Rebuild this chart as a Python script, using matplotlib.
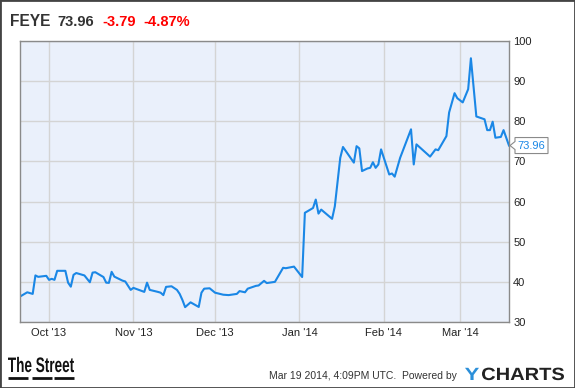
import matplotlib
matplotlib.use('Agg')
import matplotlib.pyplot as plt
import matplotlib.dates as mdates
from matplotlib.textpath import TextPath
from matplotlib.font_manager import FontProperties
from matplotlib.patches import PathPatch, Polygon
from matplotlib.transforms import Affine2D, IdentityTransform
import pandas as pd

# FEYE closing prices (turning points)
dates = ['2013-09-20', '2013-09-23', '2013-09-25', '2013-09-26', '2013-09-27', '2013-09-30',
         '2013-10-01', '2013-10-02', '2013-10-03', '2013-10-04', '2013-10-07', '2013-10-08',
         '2013-10-09', '2013-10-10', '2013-10-11', '2013-10-14', '2013-10-16', '2013-10-17',
         '2013-10-18', '2013-10-21', '2013-10-22', '2013-10-23', '2013-10-24', '2013-10-25',
         '2013-10-28', '2013-10-29', '2013-10-31', '2013-11-01', '2013-11-03', '2013-11-05',
         '2013-11-06', '2013-11-07', '2013-11-10', '2013-11-11', '2013-11-12', '2013-11-13',
         '2013-11-15', '2013-11-17', '2013-11-18', '2013-11-19', '2013-11-20', '2013-11-22',
         '2013-11-25', '2013-11-26', '2013-11-27', '2013-11-29', '2013-12-01', '2013-12-04',
         '2013-12-06', '2013-12-09', '2013-12-10', '2013-12-12', '2013-12-13', '2013-12-16',
         '2013-12-17', '2013-12-19', '2013-12-20', '2013-12-23', '2013-12-26', '2013-12-27',
         '2013-12-30', '2014-01-02', '2014-01-03', '2014-01-06', '2014-01-07', '2014-01-08',
         '2014-01-09', '2014-01-13', '2014-01-14', '2014-01-16', '2014-01-17', '2014-01-21',
         '2014-01-22', '2014-01-23', '2014-01-24', '2014-01-26', '2014-01-27', '2014-01-28',
         '2014-01-29', '2014-01-30', '2014-01-31', '2014-02-03', '2014-02-04', '2014-02-05',
         '2014-02-07', '2014-02-11', '2014-02-12', '2014-02-13', '2014-02-18', '2014-02-20',
         '2014-02-21', '2014-02-24', '2014-02-25', '2014-02-27', '2014-02-28', '2014-03-02',
         '2014-03-04', '2014-03-05', '2014-03-07', '2014-03-10', '2014-03-11', '2014-03-12',
         '2014-03-13', '2014-03-14', '2014-03-16', '2014-03-17', '2014-03-19']
prices = [36.2, 37.4, 37.0, 41.6, 41.25, 41.5,
          40.5, 40.75, 40.5, 42.75, 42.75, 39.8,
          38.8, 41.75, 42.2, 41.6, 39.9, 42.3,
          42.4, 41.2, 39.8, 39.75, 42.5, 41.3,
          40.3, 40.1, 38.0, 38.5, 38.0, 37.5,
          39.8, 38.0, 37.5, 37.3, 36.7, 38.75,
          38.9, 38.0, 37.0, 35.5, 33.7, 34.9,
          33.75, 37.3, 38.3, 38.4, 37.3, 36.8,
          36.7, 37.0, 37.7, 37.4, 38.3, 39.0,
          39.1, 40.25, 39.7, 40.0, 43.5, 43.4,
          43.8, 41.2, 57.2, 58.4, 60.5, 57.0,
          58.0, 55.7, 58.8, 70.9, 73.6, 69.7,
          73.8, 73.25, 67.6, 68.25, 68.4, 69.8,
          68.4, 69.25, 73.0, 66.75, 67.0, 66.2,
          70.9, 78.0, 69.25, 74.25, 71.2, 73.0,
          72.8, 76.3, 82.2, 87.0, 85.75, 84.7,
          88.0, 95.7, 81.2, 80.5, 77.8, 77.8,
          79.9, 75.9, 76.1, 77.8, 73.96]

yticks = [30, 40, 50, 60, 70, 80, 90, 100]
month_ticks = ['2013-10-01', '2013-11-01', '2013-12-01', '2014-01-01', '2014-02-01', '2014-03-01']
month_labels = ["Oct '13", "Nov '13", "Dec '13", "Jan '14", "Feb '14", "Mar '14"]

W, H = 575, 388
x = pd.to_datetime(dates)

plt.rcParams['font.family'] = ['Liberation Sans', 'DejaVu Sans']

fig = plt.figure(figsize=(W / 100, H / 100), dpi=100)
ax = fig.add_axes([20/W, 1 - 322/H, 489/W, 281/H])
ax.set_facecolor('#eaf0fb')

ax.plot(x, prices, color='#1a87e6', lw=1.5)

ax.set_xlim(pd.Timestamp('2013-09-20 08:00'), pd.Timestamp('2014-03-19'))
ax.set_ylim(30, 100)
ax.set_yticks(yticks)
ax.set_xticks(pd.to_datetime(month_ticks))
ax.set_xticklabels(month_labels)
ax.yaxis.tick_right()
ax.tick_params(length=0, labelsize=8, colors='#222222')
ax.tick_params(axis='y', pad=3)
ax.tick_params(axis='x', pad=4)
ax.grid(True, color='#d4d4d4', lw=1)
ax.set_axisbelow(True)
for s in ax.spines.values():
    s.set_color('#8a8a8a')
    s.set_linewidth(1)

# last value tag, pointer anchored to the last point
tx, ty = ax.transData.transform((mdates.date2num(x[-1]), prices[-1]))
tx += 1
tag = Polygon([(tx, ty), (tx + 5, ty + 4), (tx + 5, ty + 8), (tx + 38, ty + 8),
               (tx + 38, ty - 8), (tx + 5, ty - 8), (tx + 5, ty - 4)],
              closed=True, fc='white', ec='#8a8a8a', lw=0.8, transform=IdentityTransform())
fig.add_artist(tag)
fig.text((tx + 7) / W, ty / H, '73.96', fontsize=8, color='#1a87e6', va='center')

# header
hy = 1 - 26/H
fig.text(10/W, hy, 'FEYE', fontsize=11.2, fontweight='bold', color='#333333', va='baseline')
fig.text(57/W, hy, '73.96', fontsize=10.5, fontweight='bold', color='#333333', va='baseline')
fig.text(102/W, hy, '-3.79', fontsize=10.5, fontweight='bold', color='#ff0000', va='baseline')
fig.text(143/W, hy, '-4.87%', fontsize=10.5, fontweight='bold', color='#ff0000', va='baseline')


def logo(text, x0, x1, base, cap, color, family='Liberation Sans'):
    # word mark squeezed into a pixel box (x0..x1, baseline at pixel row base)
    p = TextPath((0, 0), text, size=100, prop=FontProperties(family=family, weight='bold'))
    ext = p.get_extents()
    sx = (x1 - x0) / ext.width
    sy = cap / 71.6
    tr = Affine2D().translate(-ext.x0, 0).scale(sx, sy).translate(x0, H - base)
    fig.add_artist(PathPatch(tr.transform_path(p), fc=color, ec='none',
                             transform=IdentityTransform()))


# footer
logo('The Street', 8, 74, 372, 15, '#111111')
for x0 in [8, 32, 54]:
    fig.add_artist(plt.Line2D([x0/W, (x0 + 20)/W], [1 - 378/H, 1 - 378/H],
                              color='#111111', lw=2, solid_capstyle='butt'))
fig.text(269/W, 1 - 379/H, 'Mar 19 2014, 4:09PM UTC.  Powered by', fontsize=7.5,
         color='#333333', va='baseline')
logo('Y', 465, 479, 380, 12.7, '#2b8fd9')
logo('CHARTS', 482, 564, 380, 12.7, '#222222')

# outer frame
fig.add_artist(plt.Rectangle((0, 0), 1, 1, transform=fig.transFigure, fill=False,
                             ec='#444444', lw=2))

fig.savefig('out.png', dpi=100)
